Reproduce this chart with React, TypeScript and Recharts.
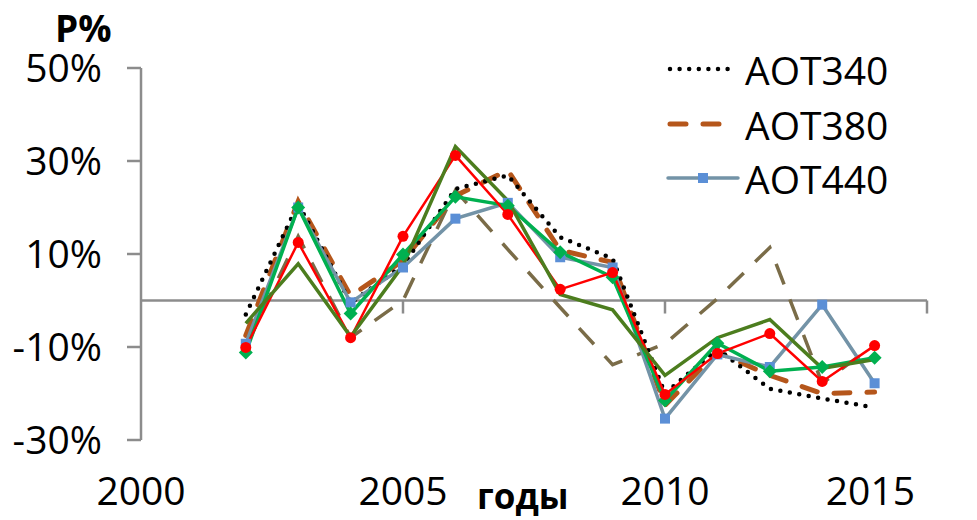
import * as React from 'react';
import { LineChart, Line, XAxis, YAxis, ReferenceLine } from 'recharts';

// years on the x axis
const years = [2002, 2003, 2004, 2005, 2006, 2007, 2008, 2009, 2010, 2011, 2012, 2013, 2014];

// values in %
const aot340 = [-3, 20.8, -0.5, 7.5, 24, 26.9, 13.6, 9.0, -20, -10.4, -19, -21.1, -23];
const aot380 = [-7.5, 21.3, 1.0, 8.6, 22.5, 28, 10.8, 8.2, -22.5, -11.1, -16.1, -20, -19.7];
const aot440 = [-9.3, 20, -0.4, 7.1, 17.6, 21, 9.3, 7.1, -25.4, -11.6, -14.3, -0.9, -17.8];
const redSeries = [-10.1, 12.5, -8.0, 13.8, 31.2, 18.5, 2.4, 6.0, -20.2, -11.4, -7.1, -17.4, -9.7];
const greenSeries = [-11.2, 20, -2.8, 9.9, 22.3, 20.4, 10.4, 5.0, -21.5, -9.2, -15.2, -14.3, -12.3];
const darkGreenSeries = [-4.9, 7.9, -7.8, 7.5, 33.1, 21.5, 1.3, -2.0, -16.1, -8.0, -4.1, -14.6, -12.7];
const oliveSeries = [-10, 13.8, -8, 0, 23.7, 11, -1.5, -13.8, -9.3, 0.4, 11.4, -17.8, -9.5];

const xTicks = [2000, 2005, 2010, 2015];
const yTicks = [-30, -10, 10, 30, 50];

const data = years.map((year, i) => ({
  year,
  aot340: aot340[i],
  aot380: aot380[i],
  aot440: aot440[i],
  red: redSeries[i],
  green: greenSeries[i],
  darkGreen: darkGreenSeries[i],
  olive: oliveSeries[i],
}));

const FONT = '"Open Sans", sans-serif';
const AXIS = '#8c8c8c';

const SquareDot = (props: any) => {
  const { cx, cy, index } = props;
  return <rect key={'sq' + index} x={cx - 5} y={cy - 5} width={10} height={10} fill="#5b8fd6" />;
};

const DiamondDot = (props: any) => {
  const { cx, cy, index } = props;
  const s = 7;
  return (
    <polygon
      key={'dm' + index}
      points={`${cx},${cy - s} ${cx + s},${cy} ${cx},${cy + s} ${cx - s},${cy}`}
      fill="#00b050"
    />
  );
};

const CircleDot = (props: any) => {
  const { cx, cy, index } = props;
  return <circle key={'c' + index} cx={cx} cy={cy} r={5.5} fill="#ff0000" />;
};

// last label sits left of its tick, like in the source picture
const YearTick = (props: any) => {
  const { x, y, payload, index } = props;
  const last = index === xTicks.length - 1;
  return (
    <text
      x={last ? x - 12 : x}
      y={y}
      dy="0.71em"
      textAnchor={last ? 'end' : 'middle'}
      fontSize={39}
      fontFamily={FONT}
      fill="#000"
    >
      {payload.value}
    </text>
  );
};

const LegendBox = () => (
  <svg width={320} height={170} style={{ position: 'absolute', left: 640, top: 35, pointerEvents: 'none' }}>
    <g fontFamily={FONT} fontSize={39} fill="#000">
      <line x1={22} x2={88} y1={26} y2={26} stroke="#000" strokeWidth={4.5} strokeDasharray="0 9.6" strokeLinecap="round" />
      <text x={97} y={26} dominantBaseline="central">AOT340</text>
      <line x1={22} x2={88} y1={81} y2={81} stroke="#b5561b" strokeWidth={5} strokeDasharray="16 17" strokeLinecap="round" />
      <text x={97} y={81} dominantBaseline="central">AOT380</text>
      <line x1={20} x2={90} y1={135} y2={135} stroke="#7393a7" strokeWidth={3.5} strokeLinecap="round" />
      <rect x={50} y={130} width={10} height={10} fill="#5b8fd6" />
      <text x={97} y={135} dominantBaseline="central">AOT440</text>
    </g>
  </svg>
);

export default function App() {
  return (
    <div style={{ position: 'relative', width: 960, height: 510, fontFamily: FONT }}>
      <LineChart width={960} height={510} data={data} margin={{ top: 60, right: 41, left: 0, bottom: 18 }}>
        <XAxis
          dataKey="year"
          type="number"
          domain={[2000, 2015]}
          ticks={xTicks}
          axisLine={false}
          tickLine={false}
          tickSize={0}
          tickMargin={37}
          height={60}
          tick={YearTick}
          interval={0}
        />
        <YAxis
          type="number"
          domain={[-30, 50]}
          ticks={yTicks}
          tickFormatter={(v: number) => `${v}%`}
          width={133}
          axisLine={{ stroke: AXIS, strokeWidth: 2.5 }}
          tickLine={{ stroke: AXIS, strokeWidth: 2.5 }}
          tickSize={14}
          tickMargin={25}
          tick={{ fontSize: 39, fill: '#000', fontFamily: FONT }}
          interval={0}
        />
        <ReferenceLine y={0} stroke={AXIS} strokeWidth={2.5} />
        {xTicks.slice(1).map((t) => (
          <ReferenceLine
            key={t}
            segment={[{ x: t, y: 0 }, { x: t, y: -2.8 }]}
            stroke={AXIS}
            strokeWidth={2.5}
          />
        ))}
        <Line dataKey="olive" stroke="#7a6c48" strokeWidth={3.5} strokeDasharray="22 16" dot={false} isAnimationActive={false} />
        <Line dataKey="aot380" stroke="#b5561b" strokeWidth={5} strokeDasharray="16 17" strokeLinecap="round" dot={false} isAnimationActive={false} />
        <Line dataKey="aot340" stroke="#000" strokeWidth={4.5} strokeDasharray="0 9.6" strokeLinecap="round" dot={false} isAnimationActive={false} />
        <Line dataKey="aot440" stroke="#7393a7" strokeWidth={3.5} dot={SquareDot} isAnimationActive={false} />
        <Line dataKey="green" stroke="#00b050" strokeWidth={3.5} dot={DiamondDot} isAnimationActive={false} />
        <Line dataKey="red" stroke="#ff0000" strokeWidth={2.5} dot={CircleDot} isAnimationActive={false} />
        <Line dataKey="darkGreen" stroke="#4c7d1e" strokeWidth={3.5} dot={false} isAnimationActive={false} />
      </LineChart>
      <LegendBox />
      <svg width={960} height={510} style={{ position: 'absolute', left: 0, top: 0, pointerEvents: 'none' }}>
        <text x={47} y={34} fontFamily={FONT} fontWeight="bold" fontSize={37} fill="#000">P%</text>
        <text x={469} y={501} fontFamily={FONT} fontWeight="bold" fontSize={35} fill="#000">годы</text>
      </svg>
    </div>
  );
}
